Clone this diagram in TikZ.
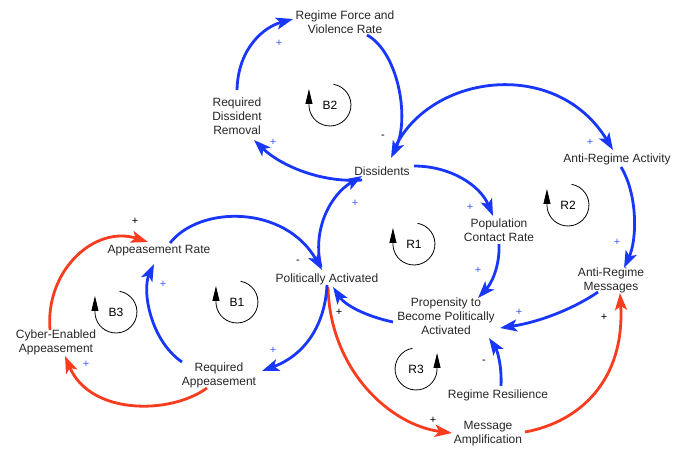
\documentclass[tikz,border=0pt]{standalone}
\usepackage{fontspec}
\setmainfont{Liberation Sans}
\usetikzlibrary{arrows.meta}
\definecolor{lblue}{RGB}{25,55,250}
\definecolor{lred}{RGB}{250,60,30}
\definecolor{sblue}{RGB}{60,90,255}
\begin{document}
\begin{tikzpicture}[x=1pt,y=-1pt,
  var/.style={font=\fontsize{12}{14}\selectfont, align=center, inner sep=1pt, text=black!85},
  link/.style={line width=2.8pt, -{Stealth[length=17pt,width=12pt,inset=4pt]}},
  blink/.style={link, draw=lblue},
  rlink/.style={link, draw=lred},
  sgn/.style={font=\fontsize{11}{11}\selectfont, inner sep=0pt},
  bsgn/.style={sgn, text=sblue},
  ksgn/.style={sgn, text=black},
  looplbl/.style={font=\fontsize{12}{14}\selectfont, inner sep=0pt},
  loopm/.style={line width=0.8pt, -{Triangle[length=15pt,width=7pt]}}
]
\useasboundingbox (0,0) rectangle (685,451);

% variables
\node[var] (rfv) at (345,22) {Regime Force and\\Violence Rate};
\node[var] (rdr) at (237,116) {Required\\Dissident\\Removal};
\node[var] (dis) at (382,171) {Dissidents};
\node[var] (ara) at (617,159) {Anti-Regime Activity};
\node[var] (pcr) at (499,230) {Population\\Contact Rate};
\node[var] (arm) at (611,280) {Anti-Regime\\Messages};
\node[var] (prop) at (446,316) {Propensity to\\Become Politically\\Activated};
\node[var] (pa) at (327,279) {Politically Activated};
\node[var] (ar) at (159,251) {Appeasement Rate};
\node[var] (cea) at (56,342) {Cyber-Enabled\\Appeasement};
\node[var] (ra) at (219,375) {Required\\Appeasement};
\node[var] (rr) at (498,395) {Regime Resilience};
\node[var] (ma) at (488,434) {Message\\Amplification};

% loop markers
\node[looplbl] (b2) at (330,105) {B2};
\node[looplbl] (r1) at (414,244) {R1};
\node[looplbl] (r2) at (568,205) {R2};
\node[looplbl] (b1) at (237,302) {B1};
\node[looplbl] (b3) at (116,312) {B3};
\node[looplbl] (r3) at (416,369) {R3};
\foreach \m in {b2,r1,r2,b1,b3}{
  \draw[loopm] ([shift={(3.6,-20.7)}]\m.center) arc[start angle=-80, end angle=180, radius=21] -- ++(0,-16);
}
\draw[loopm] ([shift={(-3.6,-20.7)}]r3.center) arc[start angle=-100, end angle=-360, radius=21] -- ++(0,-16);

% connectors
\draw[blink] ([shift={(0,-26)}]rdr.center) .. controls (238,48) and (264,27) .. ([shift={(-52,-3)}]rfv.center);
\draw[blink] ([shift={(22,13)}]rfv.center) .. controls (398,52) and (410,118) .. ([shift={(9,-13)}]dis.center);
\draw[blink] ([shift={(-20,9)}]dis.center) .. controls (320,183) and (280,165) .. ([shift={(17,24)}]rdr.center);
\draw[blink] ([shift={(-6,-12)}]pa.center) .. controls (312,230) and (330,195) .. ([shift={(-20,5)}]dis.center);
\draw[blink] ([shift={(11,-19)}]dis.center) .. controls (425,75) and (555,55) .. ([shift={(-4,-9)}]ara.center);
\draw[blink] ([shift={(32,-5)}]dis.center) .. controls (450,166) and (480,185) .. ([shift={(-6,-14)}]pcr.center);
\draw[blink] ([shift={(0,14)}]pcr.center) .. controls (500,265) and (492,283) .. ([shift={(32,-18)}]prop.center);
\draw[blink] ([shift={(4,8)}]ara.center) .. controls (638,195) and (637,240) .. ([shift={(13,-12)}]arm.center);
\draw[blink] ([shift={(-13,12)}]arm.center) .. controls (575,308) and (540,322) .. ([shift={(54,12)}]prop.center);
\draw[blink] ([shift={(-53,6)}]prop.center) .. controls (365,316) and (345,305) .. ([shift={(6,8)}]pa.center);
\draw[blink] ([shift={(3,-9)}]rr.center) .. controls (502,365) and (497,350) .. ([shift={(43,22)}]prop.center);
\draw[rlink] ([shift={(1,8)}]pa.center) .. controls (330,370) and (390,425) .. ([shift={(-36,-1)}]ma.center);
\draw[rlink] ([shift={(37,-2)}]ma.center) .. controls (580,422) and (625,380) .. ([shift={(9,13)}]arm.center);
\draw[blink] ([shift={(11,-8)}]ar.center) .. controls (200,205) and (285,205) .. ([shift={(-5,-9)}]pa.center);
\draw[blink] ([shift={(0,6)}]pa.center) .. controls (325,325) and (305,355) .. ([shift={(43,-4)}]ra.center);
\draw[blink] ([shift={(-37,-13)}]ra.center) .. controls (150,340) and (142,290) .. ([shift={(-5,13)}]ar.center);
\draw[rlink] ([shift={(-12,13)}]ra.center) .. controls (170,415) and (90,415) .. ([shift={(9,14)}]cea.center);
\draw[rlink] ([shift={(-6,-12)}]cea.center) .. controls (45,270) and (95,225) .. ([shift={(-11,-9)}]ar.center);

% polarity signs
\node[bsgn] (s1) at (279,43) {+};
\node[ksgn] (s2) at (383,137) {-};
\node[bsgn] (s3) at (273,142) {+};
\node[bsgn] (s4) at (355,203) {+};
\node[bsgn] (s5) at (590,142) {+};
\node[bsgn] (s6) at (470,207) {+};
\node[bsgn] (s7) at (478,270) {+};
\node[bsgn] (s8) at (617,242) {+};
\node[bsgn] (s9) at (519,312) {+};
\node[ksgn] (s10) at (484,362) {-};
\node[ksgn] (s11) at (339,312) {+};
\node[ksgn] (s12) at (433,420) {+};
\node[ksgn] (s13) at (604,317) {+};
\node[ksgn] (s14) at (298,262) {-};
\node[bsgn] (s15) at (273,350) {+};
\node[bsgn] (s16) at (163,284) {+};
\node[bsgn] (s17) at (86,364) {+};
\node[ksgn] (s18) at (135,221) {+};
\end{tikzpicture}
\end{document}
